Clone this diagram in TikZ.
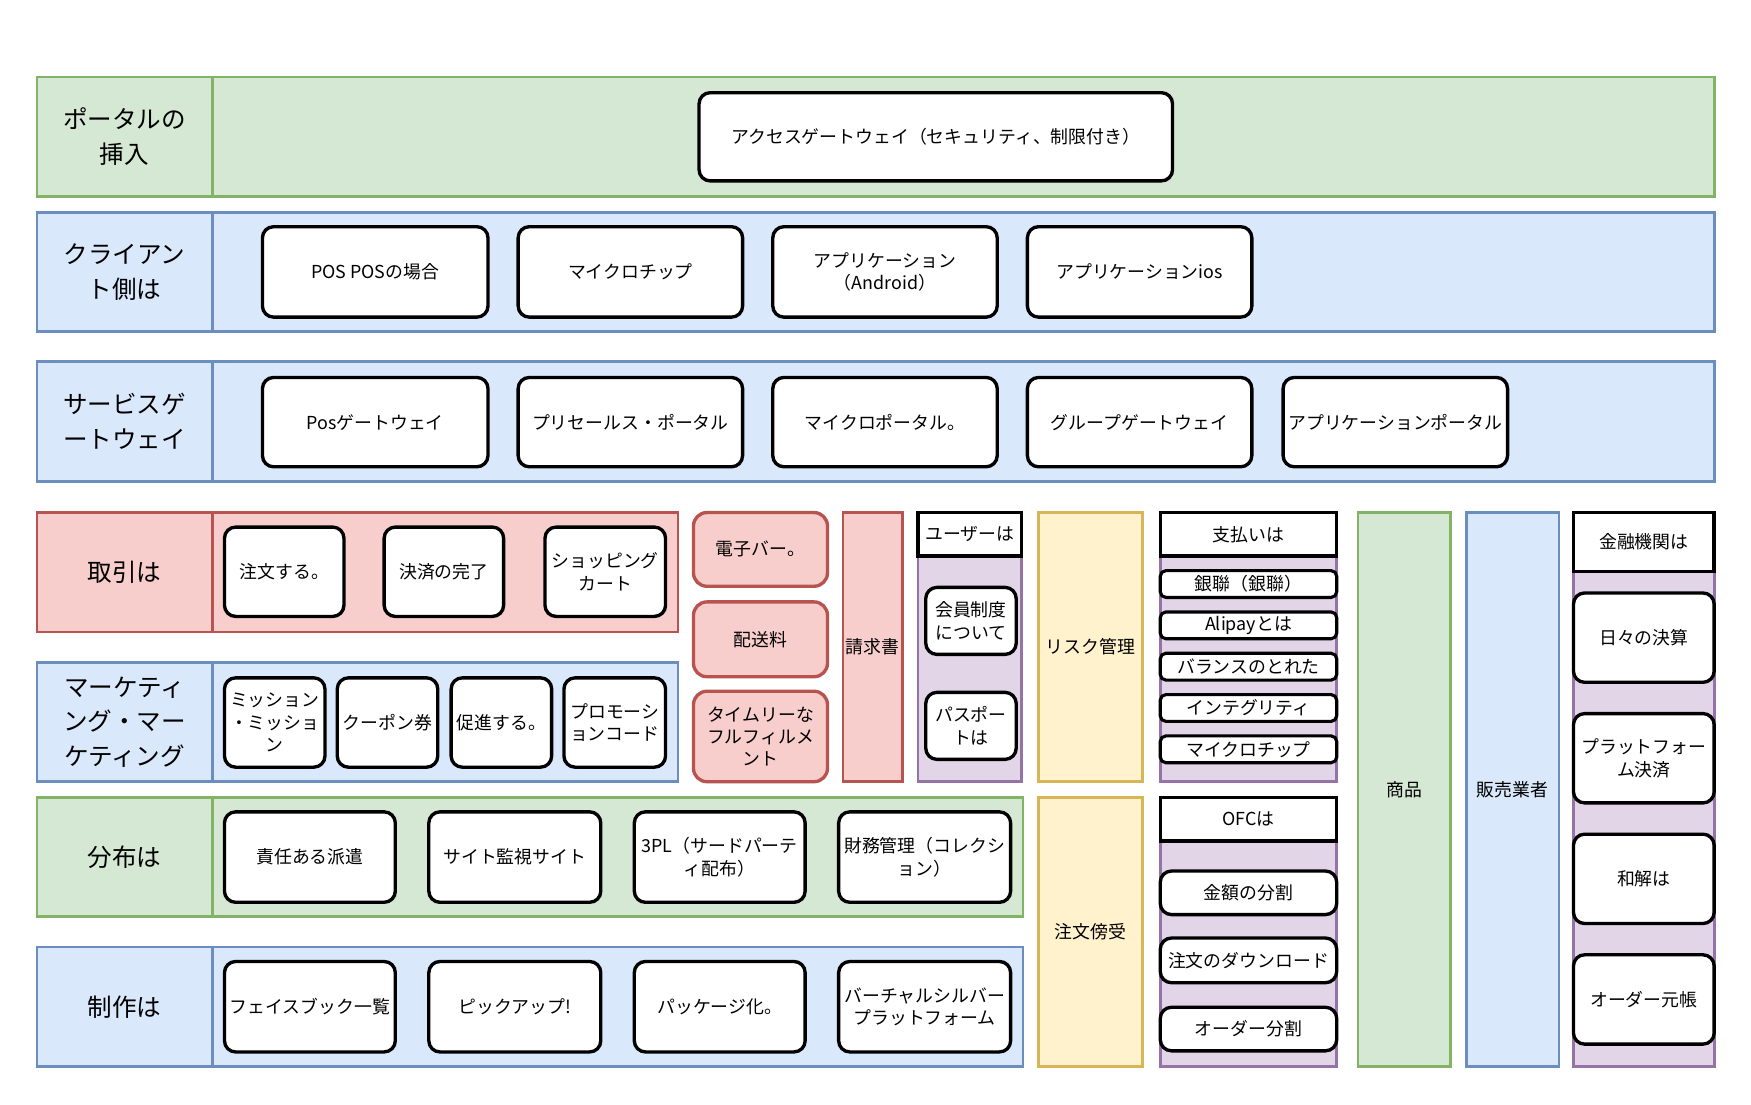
\documentclass[tikz,border=0pt]{standalone}
\usepackage{fontspec}
\setmainfont{Noto Sans CJK JP}
\definecolor{gF}{HTML}{D5E8D4}\definecolor{gS}{HTML}{82B366}
\definecolor{bF}{HTML}{DAE8FC}\definecolor{bS}{HTML}{6C8EBF}
\definecolor{rF}{HTML}{F8CECC}\definecolor{rS}{HTML}{B85450}
\definecolor{pF}{HTML}{E1D5E7}\definecolor{pS}{HTML}{9673A6}
\definecolor{yF}{HTML}{FFF2CC}\definecolor{yS}{HTML}{D6B656}
\newcommand\bnode[7]{%
  \pgfmathsetmacro\bw{(#5-#3)*0.5}\pgfmathsetmacro\bh{(#6-#4)*0.5}%
  \node[#1, minimum width=\bw pt, minimum height=\bh pt] (#2) at ({(#3+#5)/2},{(#4+#6)/2}) {#7};}
\begin{document}
\begin{tikzpicture}[x=0.5pt,y=-0.5pt,
  every node/.style={inner sep=0pt, outer sep=0pt, align=center, font=\fontsize{8}{10}\selectfont},
  band/.style={draw, line width=1.2pt, rectangle},
  gband/.style={band, draw=gS, fill=gF},
  bband/.style={band, draw=bS, fill=bF},
  rband/.style={band, draw=rS, fill=rF},
  pband/.style={band, draw=pS, fill=pF},
  yband/.style={band, draw=yS, fill=yF},
  lbl/.style={font=\fontsize{11}{15.5}\selectfont},
  box/.style={draw=black, fill=white, line width=1.5pt, rounded corners=5pt},
  rbox/.style={draw=rS, fill=rF, line width=1.5pt, rounded corners=6pt},
  hdr/.style={draw=black, fill=white, line width=1.5pt, rectangle},
  sbox/.style={draw=black, fill=white, line width=1.4pt, rounded corners=2.5pt}]
\useasboundingbox (0,0) rectangle (1568,989);
% row 1
\bnode{gband,lbl}{portalL}{33}{69}{190}{176}{ポータルの\\挿入}
\bnode{gband}{portalB}{190}{69}{1535}{176}{}
\bnode{box}{access}{626}{83}{1050}{162}{アクセスゲートウェイ（セキュリティ、制限付き）}
% row 2
\bnode{bband,lbl}{clientL}{33}{190}{190}{297}{クライアン\\ト側は}
\bnode{bband}{clientB}{190}{190}{1535}{297}{}
\bnode{box}{c1}{235}{203}{437}{284}{POS POSの場合}
\bnode{box}{c2}{464}{203}{665}{284}{マイクロチップ}
\bnode{box}{c3}{692}{203}{893}{284}{アプリケーション\\（Android）}
\bnode{box}{c4}{920}{203}{1121}{284}{アプリケーションios}
% row 3
\bnode{bband,lbl}{svcL}{33}{324}{190}{431}{サービスゲ\\ートウェイ}
\bnode{bband}{svcB}{190}{324}{1535}{431}{}
\bnode{box}{s1}{235}{338}{437}{418}{Posゲートウェイ}
\bnode{box}{s2}{464}{338}{665}{418}{プリセールス・ポータル}
\bnode{box}{s3}{692}{338}{893}{418}{マイクロポータル。}
\bnode{box}{s4}{920}{338}{1121}{418}{グループゲートウェイ}
\bnode{box}{s5}{1149}{338}{1350}{418}{アプリケーションポータル}
% row 4 trade
\bnode{rband,lbl}{tradeL}{33}{459}{190}{566}{取引は}
\bnode{rband}{tradeB}{190}{459}{607}{566}{}
\bnode{box}{t1}{201}{472}{308}{552}{注文する。}
\bnode{box}{t2}{344}{472}{451}{552}{決済の完了}
\bnode{box}{t3}{488}{472}{596}{552}{ショッピング\\カート}
% row 5 marketing
\bnode{bband,lbl}{mktL}{33}{593}{190}{700}{マーケティ\\ング・マー\\ケティング}
\bnode{bband}{mktB}{190}{593}{607}{700}{}
\bnode{box}{m1}{201}{607}{291}{687}{ミッション\\・ミッショ\\ン}
\bnode{box}{m2}{302}{607}{392}{687}{クーポン券}
\bnode{box}{m3}{404}{607}{494}{687}{促進する。}
\bnode{box}{m4}{505}{607}{596}{687}{プロモーシ\\ョンコード}
% red column
\bnode{rbox}{r1}{621}{459}{741}{525}{電子バー。}
\bnode{rbox}{r2}{621}{539}{741}{606}{配送料}
\bnode{rbox}{r3}{621}{619}{741}{700}{タイムリーな\\フルフィルメ\\ント}
\bnode{rband}{invoice}{755}{459}{808}{700}{請求書}
% user group
\bnode{pband}{userG}{822}{459}{915}{700}{}
\bnode{hdr}{userH}{822}{459}{915}{498}{ユーザーは}
\bnode{box}{u1}{829}{526}{910}{586}{会員制度\\について}
\bnode{box}{u2}{829}{620}{910}{680}{パスポー\\トは}
% yellow
\bnode{yband}{risk}{930}{459}{1023}{700}{リスク管理}
\bnode{yband}{intercept}{930}{714}{1023}{955}{注文傍受}
% payment group
\bnode{pband}{payG}{1039}{459}{1197}{700}{}
\bnode{hdr}{payH}{1039}{459}{1197}{498}{支払いは}
\bnode{sbox}{p1}{1039}{511}{1197}{535}{銀聯（銀聯）}
\bnode{sbox}{p2}{1039}{548}{1197}{572}{Alipayとは}
\bnode{sbox}{p3}{1039}{585}{1197}{609}{バランスのとれた}
\bnode{sbox}{p4}{1039}{622}{1197}{646}{インテグリティ}
\bnode{sbox}{p5}{1039}{659}{1197}{683}{マイクロチップ}
% OFC group
\bnode{pband}{ofcG}{1039}{714}{1197}{955}{}
\bnode{hdr}{ofcH}{1039}{714}{1197}{753}{OFCは}
\bnode{box}{o1}{1039}{780}{1197}{819}{金額の分割}
\bnode{box}{o2}{1039}{840}{1197}{880}{注文のダウンロード}
\bnode{box}{o3}{1039}{902}{1197}{941}{オーダー分割}
% goods / vendor
\bnode{gband}{goods}{1216}{459}{1299}{955}{商品}
\bnode{bband}{vendor}{1313}{459}{1396}{955}{販売業者}
% finance group
\bnode{pband}{finG}{1409}{459}{1535}{955}{}
\bnode{hdr}{finH}{1409}{459}{1535}{512}{金融機関は}
\bnode{box}{f1}{1409}{531}{1535}{611}{日々の決算}
\bnode{box}{f2}{1409}{639}{1535}{719}{プラットフォー\\ム決済}
\bnode{box}{f3}{1409}{747}{1535}{827}{和解は}
\bnode{box}{f4}{1409}{855}{1535}{935}{オーダー元帳}
% distribution
\bnode{gband,lbl}{distL}{33}{714}{190}{821}{分布は}
\bnode{gband}{distB}{190}{714}{916}{821}{}
\bnode{box}{d1}{201}{727}{354}{808}{責任ある派遣}
\bnode{box}{d2}{384}{727}{538}{808}{サイト監視サイト}
\bnode{box}{d3}{568}{727}{721}{808}{3PL（サードパーテ\\ィ配布）}
\bnode{box}{d4}{751}{727}{905}{808}{財務管理（コレクシ\\ョン）}
% production
\bnode{bband,lbl}{prodL}{33}{848}{190}{955}{制作は}
\bnode{bband}{prodB}{190}{848}{916}{955}{}
\bnode{box}{q1}{201}{861}{354}{942}{フェイスブック一覧}
\bnode{box}{q2}{384}{861}{538}{942}{ピックアップ!}
\bnode{box}{q3}{568}{861}{721}{942}{パッケージ化。}
\bnode{box}{q4}{751}{861}{905}{942}{バーチャルシルバー\\プラットフォーム}
\end{tikzpicture}
\end{document}
